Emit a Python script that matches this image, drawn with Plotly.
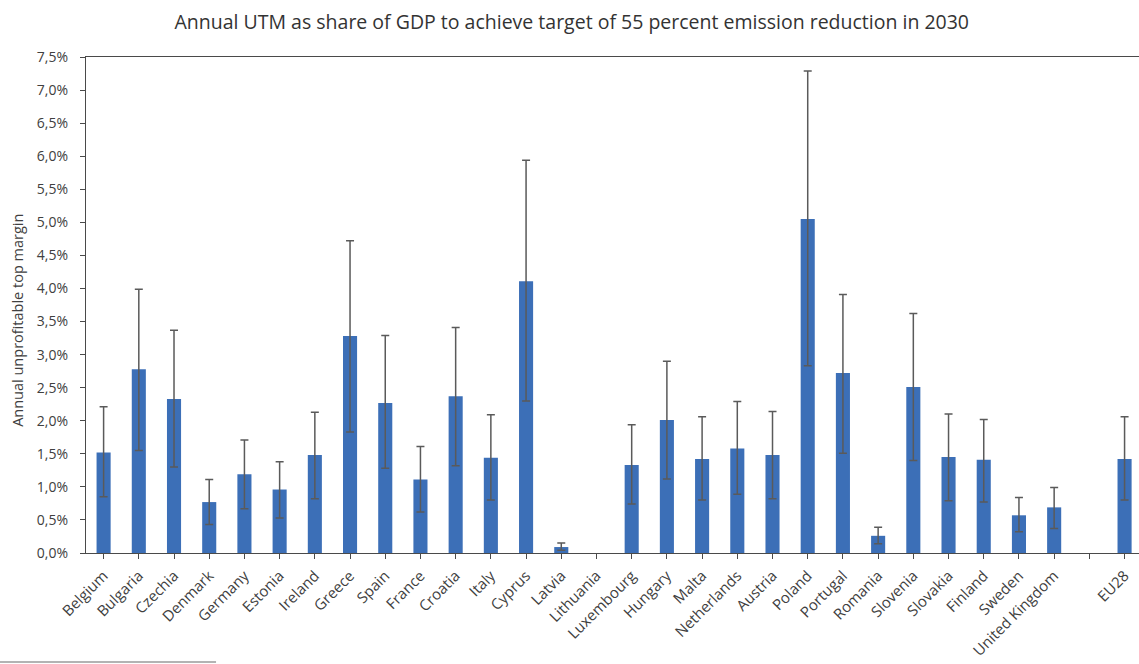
import plotly.graph_objects as go

# Countries (EU28) with a spacer slot before the aggregate
categories = ["Belgium", "Bulgaria", "Czechia", "Denmark", "Germany", "Estonia",
              "Ireland", "Greece", "Spain", "France", "Croatia", "Italy", "Cyprus",
              "Latvia", "Lithuania", "Luxembourg", "Hungary", "Malta", "Netherlands",
              "Austria", "Poland", "Portugal", "Romania", "Slovenia", "Slovakia",
              "Finland", "Sweden", "United Kingdom", " ", "EU28"]

# Central estimate of annual UTM (% of GDP)
utm_share = [1.52, 2.78, 2.33, 0.77, 1.19, 0.96, 1.48, 3.28, 2.27, 1.11, 2.37, 1.44, 4.11,
             0.09, None, 1.33, 2.01, 1.42, 1.58, 1.48, 5.05, 2.72, 0.26, 2.51, 1.45,
             1.41, 0.57, 0.69, None, 1.42]

# Upper and lower bounds of the range
utm_high = [2.21, 3.99, 3.37, 1.11, 1.71, 1.38, 2.13, 4.72, 3.29, 1.61, 3.41, 2.09, 5.94,
            0.15, None, 1.94, 2.90, 2.06, 2.29, 2.14, 7.29, 3.91, 0.39, 3.62, 2.10,
            2.02, 0.84, 0.99, None, 2.06]
utm_low = [0.85, 1.55, 1.30, 0.43, 0.67, 0.53, 0.82, 1.83, 1.28, 0.62, 1.32, 0.80, 2.30,
           0.04, None, 0.74, 1.12, 0.80, 0.89, 0.82, 2.83, 1.51, 0.14, 1.40, 0.79,
           0.77, 0.32, 0.37, None, 0.80]

y_ticks = [i * 0.5 for i in range(16)]
y_tick_labels = [f"{v:.1f}".replace(".", ",") + "%" for v in y_ticks]

err_plus = [(h - v) if v is not None else None for h, v in zip(utm_high, utm_share)]
err_minus = [(v - l) if v is not None else None for l, v in zip(utm_low, utm_share)]

text_color = "#404040"
font_family = "Open Sans, Noto Sans, DejaVu Sans, sans-serif"

fig = go.Figure()
fig.add_trace(go.Bar(
    x=categories,
    y=utm_share,
    marker=dict(color="#3c6fb7", line=dict(width=0)),
    width=0.4,
    error_y=dict(
        type="data",
        symmetric=False,
        array=err_plus,
        arrayminus=err_minus,
        color="#5a5a5a",
        thickness=1.5,
        width=4,
    ),
    hoverinfo="x+y",
))

fig.update_layout(
    width=1139,
    height=664,
    margin=dict(l=86, r=0, t=57, b=111, autoexpand=False),
    paper_bgcolor="white",
    plot_bgcolor="white",
    showlegend=False,
    font=dict(family=font_family, color=text_color, size=12),
    title=dict(
        text="Annual UTM as share of GDP to achieve target of 55 percent emission reduction in 2030",
        x=0.502, xanchor="center",
        y=0.967, yanchor="middle",
        font=dict(size=19.5, color="#333333", family=font_family),
    ),
    xaxis=dict(
        type="category",
        categoryorder="array",
        categoryarray=categories,
        range=[-0.5, 29.41],
        showline=True,
        linecolor="#4a4a4a",
        linewidth=1.3,
        mirror=True,
        ticks="outside",
        ticklen=5,
        tickcolor="#4a4a4a",
        tickangle=-45,
        tickfont=dict(size=15, color=text_color),
        ticklabelstandoff=2,
        showgrid=False,
        zeroline=False,
    ),
    yaxis=dict(
        range=[0, 7.5],
        tickvals=y_ticks,
        ticktext=y_tick_labels,
        showline=True,
        linecolor="#4a4a4a",
        linewidth=1.3,
        ticks="outside",
        ticklen=5,
        tickcolor="#4a4a4a",
        tickfont=dict(size=14, color=text_color),
        ticklabelstandoff=9,
        showgrid=False,
        zeroline=False,
    ),
)

# Y-axis title placed explicitly at the far left
fig.add_annotation(
    text="Annual unprofitable top margin",
    xref="paper", yref="paper", x=-0.0646, y=0.47,
    xanchor="center", yanchor="middle", textangle=-90,
    showarrow=False, font=dict(size=14.5, color=text_color),
)

# Footnote separator rule at the bottom-left
fig.add_shape(type="line", xref="paper", yref="paper",
              x0=-0.0817, x1=0.1235, y0=-0.2198, y1=-0.2198,
              line=dict(color="#9a9a9a", width=1.5))

fig.write_html("out.html")
